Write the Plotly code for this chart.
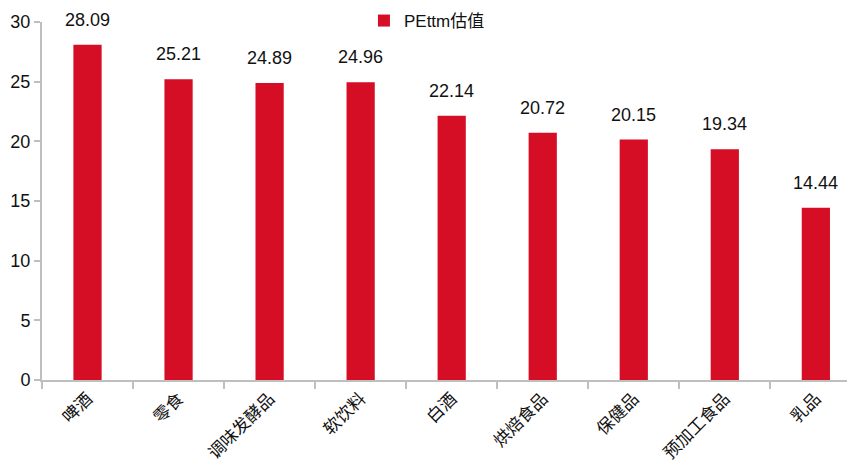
import plotly.graph_objects as go

categories = ["啤酒", "零食", "调味发酵品", "软饮料", "白酒", "烘焙食品", "保健品", "预加工食品", "乳品"]
pe_values = [28.09, 25.21, 24.89, 24.96, 22.14, 20.72, 20.15, 19.34, 14.44]
value_labels = ["28.09", "25.21", "24.89", "24.96", "22.14", "20.72", "20.15", "19.34", "14.44"]
y_ticks = [0, 5, 10, 15, 20, 25, 30]

RED = "#d50d25"
AXIS = "#bfbfbf"
FONT = "Liberation Sans, Noto Sans CJK SC, sans-serif"

fig = go.Figure()
fig.add_trace(go.Bar(
    x=categories, y=pe_values, name="PEttm估值",
    marker=dict(color=RED, line=dict(width=0)),
    showlegend=True,
))

for c, v, t in zip(categories, pe_values, value_labels):
    fig.add_annotation(x=c, y=v, text=t, showarrow=False, yshift=25,
                       font=dict(size=18, color="#111111", family=FONT))

# page body has an 8px margin; figure is sized/offset to compensate
fig.update_layout(
    width=847, height=463,
    margin=dict(l=34, r=0, t=14, b=91, autoexpand=False),
    plot_bgcolor="white", paper_bgcolor="white",
    bargap=0.69,
    font=dict(family=FONT, color="#111111"),
    legend=dict(orientation="h", x=0.396, y=(358 + 1) / 358, xanchor="left", yanchor="middle",
                font=dict(size=17, family=FONT), bgcolor="rgba(0,0,0,0)",
                itemwidth=30),
    xaxis=dict(range=[-0.5, 8.43], showline=True, linecolor=AXIS, linewidth=2,
               ticks="outside", tickson="boundaries", ticklen=7, tickcolor=AXIS, tickwidth=2,
               tickangle=-45, tickfont=dict(size=17, family="Noto Sans CJK SC, sans-serif"),
               showgrid=False, zeroline=False, automargin=False),
    yaxis=dict(range=[0, 30], tickvals=y_ticks, showline=True,
               linecolor=AXIS, linewidth=2,
               ticks="outside", ticklen=6, tickcolor=AXIS, tickwidth=2,
               tickfont=dict(size=18, family=FONT), showgrid=False, zeroline=False,
               automargin=False),
)

fig.write_html("out.html")
